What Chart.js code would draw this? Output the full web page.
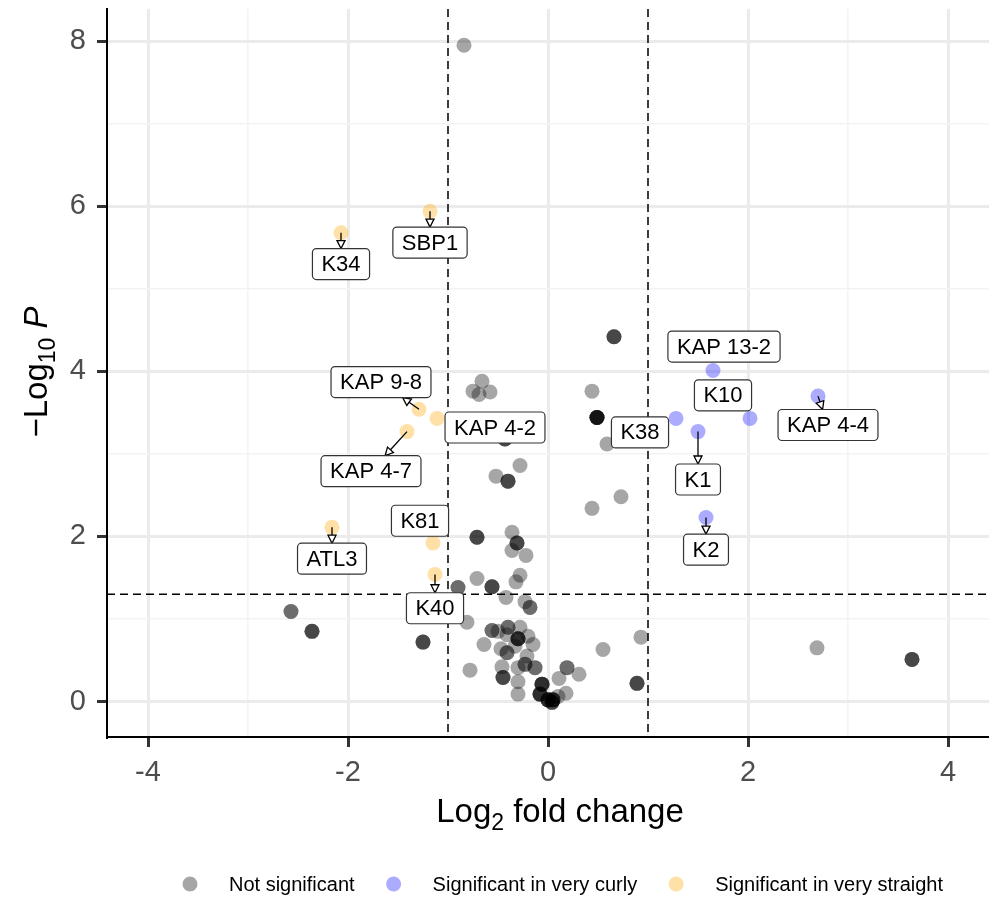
<!DOCTYPE html>
<html>
<head>
<meta charset="utf-8">
<script src="https://cdn.jsdelivr.net/npm/chart.js@4.4.1/dist/chart.umd.min.js"></script>
<style>
  html, body { margin: 0; padding: 0; background: #fff; }
  #wrap { width: 989px; height: 898px; position: relative; }
</style>
</head>
<body>
<div id="wrap"><canvas id="volcano"></canvas></div>
<script>
// not significant genes (log2 fc, -log10 p, how many genes sit on the same spot)
var nsX = [-0.84, 0.66, 0.44, 0.49, 0.59, 0.73, 0.44, -0.66, -0.75, -0.69, -0.58, -0.43, -0.28, -0.52, -0.40, -0.71, -0.36,
  -0.31, -0.36, -0.22, -0.28, -0.32, -0.71, -0.56, -0.90, -0.42, -0.23, -0.18, -0.81, -1.25, -2.57, -2.36, -0.78, -0.56,
  -0.50, -0.40, -0.41, -0.30, -0.28, -0.20, -0.15, -0.64, -0.47, -0.41, -0.33, -0.21, -0.46, -0.30, -0.23, -0.13, -0.45,
  -0.30, -0.30, -0.06, -0.08, 0.00, 0.05, 0.04, 0.11, 0.19, 0.31, 0.18, 0.10, 0.55, 0.93, 0.89, 2.69, 3.64];
var nsY = [7.95, 4.42, 3.76, 3.44, 3.12, 2.48, 2.34, 3.88, 3.76, 3.72, 3.75, 3.18, 2.86, 2.73, 2.67, 1.99, 2.05,
  1.92, 1.83, 1.77, 1.53, 1.45, 1.49, 1.39, 1.38, 1.26, 1.21, 1.14, 0.96, 0.72, 1.09, 0.85, 0.38, 0.86,
  0.85, 0.90, 0.81, 0.76, 0.90, 0.79, 0.69, 0.69, 0.64, 0.59, 0.67, 0.55, 0.42, 0.41, 0.45, 0.41, 0.29,
  0.24, 0.09, 0.21, 0.09, 0.02, 0.02, -0.01, 0.28, 0.41, 0.33, 0.10, 0.06, 0.63, 0.78, 0.22, 0.65, 0.51];
var nsN = [1, 3, 1, 6, 1, 1, 1, 1, 1, 1, 1, 3, 1, 1, 3, 3, 1,
  3, 1, 1, 1, 1, 1, 3, 2, 1, 1, 2, 1, 3, 2, 3, 1, 2,
  1, 2, 1, 4, 1, 1, 1, 1, 1, 2, 1, 1, 1, 1, 2, 2, 3,
  1, 1, 4, 4, 4, 4, 3, 1, 2, 1, 1, 1, 1, 1, 3, 1, 3];

// significant in very curly
var curlyNames = ['KAP 13-2', 'KAP 4-4', 'K38', 'K10', 'K1', 'K2'];
var curlyX = [1.65, 2.70, 1.28, 2.02, 1.50, 1.58];
var curlyY = [4.01, 3.70, 3.43, 3.43, 3.27, 2.23];

// significant in very straight
var straightNames = ['SBP1', 'K34', 'KAP 9-8', 'KAP 4-2', 'KAP 4-7', 'ATL3', 'K81', 'K40'];
var straightX = [-1.18, -2.07, -1.29, -1.11, -1.41, -2.16, -1.15, -1.13];
var straightY = [5.94, 5.68, 3.54, 3.43, 3.27, 2.11, 1.92, 1.54];

var xTicks = [-4, -2, 0, 2, 4];
var yTicks = [0, 2, 4, 6, 8];
var fcCutoff = 1;
var pCutoff = 1.3;
var legendLabels = ['Not significant', 'Significant in very curly', 'Significant in very straight'];

// where the repelled label boxes ended up (axis units)
var curlyLabelAt = [[1.76, 4.30], [2.80, 3.35], [0.92, 3.26], [1.75, 3.71], [1.50, 2.69], [1.58, 1.84]];
var straightLabelAt = [[-1.18, 5.56], [-2.07, 5.30], [-1.67, 3.87], [-0.53, 3.32], [-1.77, 2.79], [-2.16, 1.73], [-1.28, 2.19], [-1.13, 1.13]];

var colNs = 'rgba(0,0,0,0.35)';
var colCurly = 'rgba(0,0,255,0.33)';
var colStraight = 'rgba(255,165,0,0.35)';
var FONT = '"Liberation Sans", Arial, Helvetica, sans-serif';

function toPoints(xs, ys, counts) {
  var pts = [];
  for (var i = 0; i < xs.length; i++) {
    var n = counts ? counts[i] : 1;
    for (var k = 0; k < n; k++) pts.push({ x: xs[i], y: ys[i] });
  }
  return pts;
}

function isMajor(v, list) {
  return list.indexOf(Math.round(v)) >= 0;
}

var cutoffLines = {
  id: 'cutoffLines',
  beforeDatasetsDraw: function (chart) {
    var ctx = chart.ctx, a = chart.chartArea;
    var xs = chart.scales.x, ys = chart.scales.y;
    ctx.save();
    ctx.strokeStyle = '#000';
    ctx.lineWidth = 1.5;
    ctx.setLineDash([8, 5]);
    [-fcCutoff, fcCutoff].forEach(function (v) {
      var px = xs.getPixelForValue(v);
      ctx.beginPath(); ctx.moveTo(px, a.top); ctx.lineTo(px, a.bottom); ctx.stroke();
    });
    var py = ys.getPixelForValue(pCutoff);
    ctx.beginPath(); ctx.moveTo(a.left, py); ctx.lineTo(a.right, py); ctx.stroke();
    ctx.restore();
  }
};

// ggrepel-like boxed labels with arrows
var repelLabels = {
  id: 'repelLabels',
  afterDatasetsDraw: function (chart) {
    var ctx = chart.ctx;
    var xs = chart.scales.x, ys = chart.scales.y;
    var items = [];
    function collect(names, px, py, at) {
      for (var i = 0; i < names.length; i++) {
        items.push({
          name: names[i],
          x: xs.getPixelForValue(px[i]), y: ys.getPixelForValue(py[i]),
          cx: xs.getPixelForValue(at[i][0]), cy: ys.getPixelForValue(at[i][1])
        });
      }
    }
    collect(straightNames, straightX, straightY, straightLabelAt);
    collect(curlyNames, curlyX, curlyY, curlyLabelAt);

    ctx.save();
    ctx.font = '22px ' + FONT;
    items.forEach(function (it) {
      var w = ctx.measureText(it.name).width + 18, h = 31;
      it.l = it.cx - w / 2; it.r = it.cx + w / 2; it.t = it.cy - h / 2; it.b = it.cy + h / 2;
    });

    // segments first
    items.forEach(function (it) {
      var dx = it.cx - it.x, dy = it.cy - it.y;
      var tx = dx !== 0 ? Math.min(Math.abs((it.r - it.l) / 2 / dx), 1) : 1;
      var ty = dy !== 0 ? Math.min(Math.abs((it.b - it.t) / 2 / dy), 1) : 1;
      var s = 1 - Math.min(tx, ty);
      var ex = it.x + dx * s, ey = it.y + dy * s;
      var len = Math.sqrt((ex - it.x) * (ex - it.x) + (ey - it.y) * (ey - it.y));
      if (len < 12) return;
      var ux = (ex - it.x) / len, uy = (ey - it.y) / len;
      ctx.strokeStyle = '#000';
      ctx.lineWidth = 1.3;
      ctx.beginPath(); ctx.moveTo(it.x, it.y); ctx.lineTo(ex - ux * 7, ey - uy * 7); ctx.stroke();
      ctx.beginPath();
      ctx.moveTo(ex, ey);
      ctx.lineTo(ex - ux * 8 - uy * 4, ey - uy * 8 + ux * 4);
      ctx.lineTo(ex - ux * 8 + uy * 4, ey - uy * 8 - ux * 4);
      ctx.closePath();
      ctx.fillStyle = '#fff';
      ctx.fill();
      ctx.stroke();
    });

    // boxes on top
    items.forEach(function (it) {
      ctx.beginPath();
      ctx.roundRect(it.l, it.t, it.r - it.l, it.b - it.t, 4);
      ctx.fillStyle = '#fff';
      ctx.fill();
      ctx.lineWidth = 1.2;
      ctx.strokeStyle = '#333';
      ctx.stroke();
      ctx.fillStyle = '#000';
      ctx.textAlign = 'center';
      ctx.textBaseline = 'middle';
      ctx.fillText(it.name, it.cx, it.cy + 1);
    });
    ctx.restore();
  }
};

// axis titles with sub/italic parts, and the bottom legend
var titlesAndLegend = {
  id: 'titlesAndLegend',
  afterDraw: function (chart) {
    var ctx = chart.ctx;
    ctx.save();
    ctx.fillStyle = '#000';
    ctx.textBaseline = 'alphabetic';
    ctx.textAlign = 'left';

    function runs(parts) {
      var total = 0;
      parts.forEach(function (p) { ctx.font = p.f; p.w = ctx.measureText(p.t).width; total += p.w; });
      return total;
    }
    var big = '33px ' + FONT, small = '23px ' + FONT;

    var xParts = [{ t: 'Log', f: big, dy: 0 }, { t: '2', f: small, dy: 8 }, { t: ' fold change', f: big, dy: 0 }];
    var tw = runs(xParts), x0 = 560 - tw / 2;
    xParts.forEach(function (p) { ctx.font = p.f; ctx.fillText(p.t, x0, 822 + p.dy); x0 += p.w; });

    var yParts = [{ t: '\u2212Log', f: big, dy: 0 }, { t: '10', f: small, dy: 8 }, { t: ' ', f: big, dy: 0 }, { t: 'P', f: 'italic 33px ' + FONT, dy: 0 }];
    ctx.translate(47, 372);
    ctx.rotate(-Math.PI / 2);
    tw = runs(yParts); x0 = -tw / 2;
    yParts.forEach(function (p) { ctx.font = p.f; ctx.fillText(p.t, x0, p.dy); x0 += p.w; });
    ctx.setTransform(1, 0, 0, 1, 0, 0);

    var cols = [colNs, colCurly, colStraight];
    var cx = 190, cy = 884;
    ctx.font = '20px ' + FONT;
    ctx.textBaseline = 'middle';
    legendLabels.forEach(function (lab, i) {
      ctx.beginPath();
      ctx.arc(cx, cy, 7.5, 0, Math.PI * 2);
      ctx.fillStyle = cols[i];
      ctx.fill();
      ctx.fillStyle = '#000';
      ctx.fillText(lab, cx + 39, cy + 1);
      cx += 39 + ctx.measureText(lab).width + 39;
    });
    ctx.restore();
  }
};

function gridOpts(majors) {
  return {
    color: function (c) { return isMajor(c.tick.value, majors) ? '#ebebeb' : '#f3f3f3'; },
    lineWidth: function (c) { return isMajor(c.tick.value, majors) ? 3 : 1.6; },
    drawTicks: true,
    tickLength: 10,
    tickWidth: 3,
    tickColor: function (c) { return isMajor(c.tick.value, majors) ? '#333' : 'rgba(0,0,0,0)'; }
  };
}

new Chart(document.getElementById('volcano'), {
  type: 'scatter',
  data: {
    datasets: [
      { label: legendLabels[2], data: toPoints(straightX, straightY), backgroundColor: colStraight, order: 1 },
      { label: legendLabels[1], data: toPoints(curlyX, curlyY), backgroundColor: colCurly, order: 2 },
      { label: legendLabels[0], data: toPoints(nsX, nsY, nsN), backgroundColor: colNs, order: 3 }
    ]
  },
  options: {
    responsive: true,
    maintainAspectRatio: false,
    animation: false,
    devicePixelRatio: 1,
    layout: { autoPadding: false, padding: { top: 9, right: 0, left: 0, bottom: 0 } },
    elements: { point: { radius: 7.5, hoverRadius: 7.5, borderWidth: 0, borderColor: 'rgba(0,0,0,0)' } },
    plugins: {
      legend: { display: false },
      tooltip: { enabled: false }
    },
    scales: {
      x: {
        type: 'linear',
        min: -4.41, max: 4.41,
        ticks: {
          stepSize: 1, includeBounds: false, autoSkip: false, maxRotation: 0,
          padding: 9,
          color: '#4d4d4d',
          font: { size: 29, family: FONT },
          callback: function (v) { return xTicks.indexOf(v) >= 0 ? String(v) : ''; }
        },
        grid: gridOpts(xTicks),
        border: { display: true, color: '#000', width: 2 },
        afterFit: function (s) { s.height = 161; s.paddingLeft = 0; s.paddingRight = 0; }
      },
      y: {
        type: 'linear',
        min: -0.43, max: 8.39,
        ticks: {
          stepSize: 1, includeBounds: false, autoSkip: false,
          padding: 11,
          color: '#4d4d4d',
          font: { size: 29, family: FONT },
          callback: function (v) { return yTicks.indexOf(v) >= 0 ? String(v) : ''; }
        },
        grid: gridOpts(yTicks),
        border: { display: true, color: '#000', width: 2 },
        afterFit: function (s) { s.width = 107; s.paddingTop = 0; s.paddingBottom = 0; }
      }
    }
  },
  plugins: [cutoffLines, repelLabels, titlesAndLegend]
});
</script>
</body>
</html>
